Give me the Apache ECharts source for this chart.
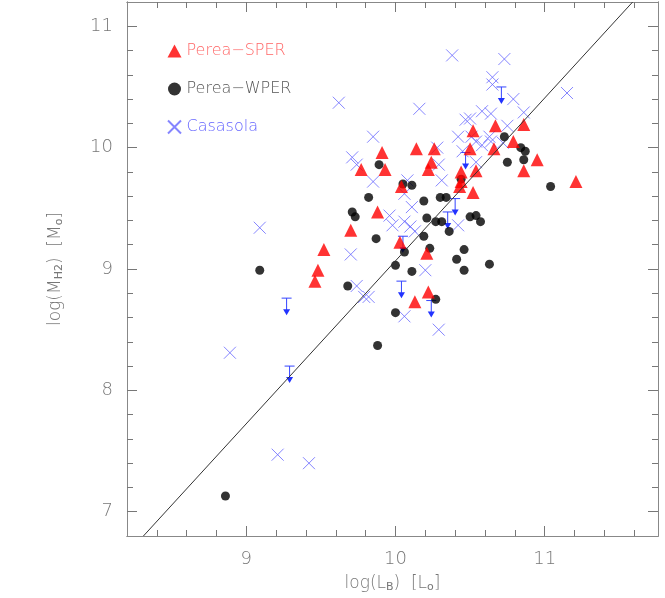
<!DOCTYPE html>
<html lang="en">
<head>
    <meta charset="UTF-8">
    <title>log(MH2) vs log(LB)</title>
    <script src="https://cdn.jsdelivr.net/npm/echarts@6/dist/echarts.min.js"></script>
    <style>
        html, body { margin: 0; padding: 0; background: #fff; }
        #chart { width: 665px; height: 598px; }
    </style>
</head>
<body>
<div id="chart"></div>
<script>
    // data: [log(LB), log(MH2)]
    const sper = [
        [9.91, 9.96], [10.14, 9.99], [10.26, 9.99], [10.24, 9.88], [10.22, 9.82], [9.77, 9.82],
        [9.93, 9.82], [10.04, 9.68], [9.88, 9.47], [9.70, 9.32], [9.52, 9.16], [9.48, 8.99],
        [9.46, 8.90], [10.03, 9.22], [10.21, 9.13], [10.44, 9.80], [10.43, 9.68], [10.52, 9.63],
        [10.54, 9.81], [10.52, 10.14], [10.50, 9.99], [10.67, 10.18], [10.86, 10.19], [10.66, 9.99],
        [10.79, 10.05], [10.95, 9.90], [10.86, 9.81], [11.21, 9.72], [10.44, 9.72], [10.22, 8.81],
        [10.13, 8.73]
    ];
    const wper = [
        [9.89, 9.86], [10.05, 9.70], [10.11, 9.69], [9.82, 9.59], [9.71, 9.47], [9.73, 9.43],
        [10.19, 9.56], [10.30, 9.59], [10.34, 9.59], [10.21, 9.42], [10.27, 9.39], [10.31, 9.39],
        [10.36, 9.31], [10.19, 9.27], [9.87, 9.25], [10.06, 9.14], [10.23, 9.17], [10.44, 9.74],
        [10.50, 9.43], [10.54, 9.44], [10.57, 9.39], [10.46, 9.16], [10.41, 9.08], [10.46, 8.99],
        [10.00, 9.03], [10.11, 8.98], [10.63, 9.04], [9.68, 8.86], [10.27, 8.75], [10.00, 8.64],
        [9.88, 8.37], [10.73, 10.09], [10.84, 10.00], [10.87, 9.97], [10.86, 9.90], [10.75, 9.88],
        [11.04, 9.68], [9.09, 8.99], [8.86, 7.13]
    ];
    const casasola = [
        [10.38, 10.76], [10.73, 10.73], [10.65, 10.58], [10.65, 10.52], [11.15, 10.45], [10.79, 10.40],
        [10.16, 10.32], [10.58, 10.30], [10.64, 10.28], [10.86, 10.29], [10.47, 10.23], [10.50, 10.24],
        [10.75, 10.18], [10.42, 10.09], [10.51, 10.09], [10.54, 10.05], [10.58, 10.02], [10.63, 10.09],
        [10.64, 10.05], [10.28, 10.00], [10.45, 9.97], [10.29, 9.86], [10.54, 9.88], [10.31, 9.73],
        [10.08, 9.73], [10.72, 10.04], [9.62, 10.37], [9.85, 10.09], [9.71, 9.92], [9.74, 9.86],
        [9.85, 9.72], [10.06, 9.62], [10.11, 9.51], [9.96, 9.44], [9.98, 9.36], [10.06, 9.39],
        [10.10, 9.35], [10.13, 9.31], [10.42, 9.36], [9.70, 9.12], [10.20, 8.99], [9.74, 8.86],
        [9.79, 8.77], [9.82, 8.77], [10.06, 8.61], [10.29, 8.50], [9.09, 9.34], [8.89, 8.31],
        [9.21, 7.47], [9.42, 7.40]
    ];
    // Casasola upper limits
    const casasolaLimits = [
        [9.27, 8.76], [9.29, 8.20], [10.71, 10.50], [10.47, 9.96], [10.05, 9.27],
        [10.40, 9.58], [10.35, 9.47], [10.04, 8.90], [10.24, 8.74]
    ];
    const fitLine = [[8.31, 6.8], [11.59, 11.2]];

    const xMajor = [9, 10, 11];
    const xMinor = [8.4, 8.6, 8.8, 9.2, 9.4, 9.6, 9.8, 10.2, 10.4, 10.6, 10.8, 11.2, 11.4, 11.6];
    const yMajor = [7, 8, 9, 10, 11];
    const yMinor = [7.2, 7.4, 7.6, 7.8, 8.2, 8.4, 8.6, 8.8, 9.2, 9.4, 9.6, 9.8, 10.2, 10.4, 10.6, 10.8];

    const blue = '#6666ff';
    const crossPath = 'path://M0,0L10,10M10,0L0,10';
    const font = 'DejaVu Sans';

    function axis(dim, pos, ticks, len, labels, extra) {
        return Object.assign({
            type: 'value', position: pos,
            min: dim === 'x' ? 8.2 : 6.8, max: dim === 'x' ? 11.76 : 11.2,
            axisLine: {show: true, lineStyle: {color: '#888', width: 1}},
            splitLine: {show: false},
            axisTick: {show: true, inside: true, length: len, customValues: ticks, lineStyle: {color: '#777'}},
            axisLabel: labels ? {
                customValues: ticks, color: '#777', fontSize: 18, fontWeight: 200, fontFamily: font, margin: 14
            } : {show: false}
        }, extra || {});
    }

    const nameRich = {
        a: {fontSize: 17, color: '#777', fontWeight: 200, fontFamily: font},
        s: {fontSize: 11, color: '#777', fontFamily: font, verticalAlign: 'bottom', padding: [8, 0, 0, 0]}
    };

    var chart = echarts.init(document.getElementById('chart'));
    chart.setOption({
        animation: false,
        grid: {left: 127, right: 7, top: 2, bottom: 61},
        legend: {
            orient: 'vertical', left: 162, top: 38, itemGap: 22, itemWidth: 14, itemHeight: 13,
            textStyle: {fontSize: 16, fontFamily: font, fontWeight: 200},
            data: [
                {name: 'Perea−SPER', icon: 'triangle', textStyle: {color: '#ff6666'}},
                {name: 'Perea−WPER', icon: 'circle', textStyle: {color: '#555'}},
                {name: 'Casasola', icon: crossPath, textStyle: {color: blue}}
            ]
        },
        xAxis: [
            axis('x', 'bottom', xMajor, 10, true, {
                name: '{a|log(L}{s|B}{a|)  [L}{s|o}{a|]}', nameLocation: 'middle', nameGap: 38,
                nameTextStyle: {rich: nameRich}
            }),
            axis('x', 'bottom', xMinor, 6, false),
            axis('x', 'top', xMajor, 10, false),
            axis('x', 'top', xMinor, 6, false)
        ],
        yAxis: [
            axis('y', 'left', yMajor, 10, true, {
                name: '{a|log(M}{s|H2}{a|)  [M}{s|o}{a|]}', nameLocation: 'middle', nameGap: 62,
                nameTextStyle: {rich: nameRich}
            }),
            axis('y', 'left', yMinor, 6, false),
            axis('y', 'right', yMajor, 10, false),
            axis('y', 'right', yMinor, 6, false)
        ],
        series: [
            {
                type: 'line', data: fitLine, symbol: 'none', silent: true,
                lineStyle: {color: '#333', width: 1}
            },
            {
                name: 'Casasola', type: 'scatter', data: casasola, symbol: crossPath, symbolSize: 12,
                itemStyle: {color: 'transparent', borderColor: blue, borderWidth: 1}
            },
            {
                name: 'Casasola', type: 'custom', data: casasolaLimits,
                renderItem: function (params, api) {
                    const p = api.coord([api.value(0), api.value(1)]);
                    const st = {stroke: '#3344ff', lineWidth: 1};
                    return {
                        type: 'group', children: [
                            {type: 'line', shape: {x1: p[0] - 5, y1: p[1], x2: p[0] + 5, y2: p[1]}, style: st},
                            {type: 'line', shape: {x1: p[0], y1: p[1], x2: p[0], y2: p[1] + 13}, style: st},
                            {
                                type: 'polygon',
                                shape: {points: [[p[0] - 3.5, p[1] + 11], [p[0] + 3.5, p[1] + 11], [p[0], p[1] + 17]]},
                                style: {fill: '#2233ff'}
                            }
                        ]
                    };
                }
            },
            {
                name: 'Perea−WPER', type: 'scatter', data: wper, symbol: 'circle', symbolSize: 9,
                itemStyle: {color: '#000'}
            },
            {
                name: 'Perea−SPER', type: 'scatter', data: sper, symbol: 'triangle', symbolSize: 13,
                itemStyle: {color: '#ff0000'}
            }
        ]
    });
</script>
</body>
</html>
